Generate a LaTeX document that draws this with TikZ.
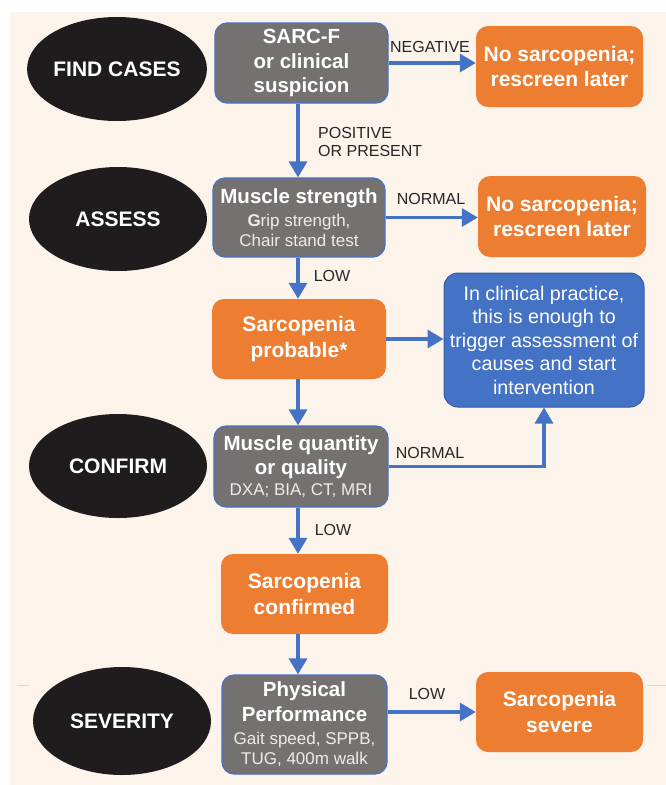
\documentclass[tikz,border=0pt]{standalone}
\usepackage{fontspec}
\setmainfont{Liberation Sans}
\usetikzlibrary{shapes.geometric,arrows.meta}
\definecolor{bgc}{RGB}{252,243,235}
\definecolor{ellc}{RGB}{30,28,29}
\definecolor{grayc}{RGB}{118,113,113}
\definecolor{orc}{RGB}{237,125,49}
\definecolor{bluec}{RGB}{68,114,196}
\definecolor{blueb}{RGB}{52,92,168}
\definecolor{labc}{RGB}{38,38,38}
\definecolor{subc}{RGB}{236,236,236}
\definecolor{faint}{RGB}{215,215,222}
\newcommand\mysub[1]{{\fontsize{17}{20}\selectfont\mdseries\color{subc}#1}}
\begin{document}
\begin{tikzpicture}[x=1pt,y=-1pt,
  stage/.style={ellipse, fill=ellc, inner sep=0pt, minimum width=178pt, minimum height=104pt,
    text=white, font=\fontsize{21}{24}\selectfont\bfseries},
  graybox/.style={rectangle, rounded corners=12pt, fill=grayc, draw=bluec, line width=1.2pt,
    text=white, align=center, inner sep=0pt, font=\fontsize{20.5}{24.5}\selectfont\bfseries},
  orbox/.style={rectangle, rounded corners=12pt, fill=orc, text=white, align=center,
    inner sep=0pt, font=\fontsize{21}{25.5}\selectfont\bfseries},
  bluebox/.style={rectangle, rounded corners=14pt, fill=bluec, draw=blueb, line width=1pt,
    text=white, align=center, inner sep=0pt, font=\fontsize{19.7}{23.5}\selectfont},
  lab/.style={text=labc, font=\fontsize{16}{18}\selectfont, inner sep=0pt, align=left},
  arr/.style={draw=bluec, line width=3.4pt, -{Triangle[length=16pt,width=18pt]}},
]
\useasboundingbox (0,0) rectangle (666,785);
\fill[bgc] (10,12) rectangle (666,785);
\draw[faint, line width=1pt] (17,685) -- (29,685);
\draw[faint, line width=1pt] (647,685) -- (666,685);

% stages
\node[stage] (find) at (117,69) {FIND CASES};
\node[stage] (assess) at (118,219) {ASSESS};
\node[stage] (confirm) at (118,466) {CONFIRM};
\node[stage, minimum height=108pt] (severity) at (122,721) {SEVERITY};

% gray boxes
\node[graybox, minimum width=173pt, minimum height=80pt] (sarc) at (301.5,63)
  {SARC-F\\or clinical\\suspicion};
\node[graybox, minimum width=172pt, minimum height=79pt] (strength) at (299,217.5)
  {Muscle strength\\[-1.5pt]\mysub{\textbf{G}rip strength,}\\[-5pt]\mysub{Chair stand test}};
\node[graybox, minimum width=174pt, minimum height=81pt] (quant) at (301,466.5)
  {Muscle quantity\\or quality\\[-3.5pt]\mysub{DXA; BIA, CT, MRI}};
\node[graybox, minimum width=165pt, minimum height=99pt] (perf) at (304.5,724.5)
  {Physical\\Performance\\[-1.5pt]\mysub{Gait speed, SPPB,}\\[-4pt]\mysub{TUG, 400m walk}};

% orange boxes
\node[orbox, minimum width=167pt, minimum height=81pt] (no1) at (559.5,66.5)
  {No sarcopenia;\\rescreen later};
\node[orbox, minimum width=168pt, minimum height=81pt] (no2) at (562,216.5)
  {No sarcopenia;\\rescreen later};
\node[orbox, minimum width=174pt, minimum height=80pt] (prob) at (299,339)
  {Sarcopenia\\probable*};
\node[orbox, minimum width=167pt, minimum height=80pt] (conf) at (304.5,594)
  {Sarcopenia\\confirmed};
\node[orbox, minimum width=167pt, minimum height=80pt] (severe) at (559.5,712)
  {Sarcopenia\\severe};

% blue box
\node[bluebox, minimum width=200pt, minimum height=134pt] (blue) at (544,340)
  {In clinical practice,\\this is enough to\\trigger assessment of\\causes and start\\intervention};

% spine
\coordinate (spine) at (298,0);

% connectors
\draw[arr] (sarc.south -| spine) -- (strength.north -| spine);
\draw[arr] (strength.south -| spine) -- (prob.north -| spine);
\draw[arr] (prob.south -| spine) -- (quant.north -| spine);
\draw[arr] (quant.south -| spine) -- (conf.north -| spine);
\draw[arr] (conf.south -| spine) -- (perf.north -| spine);
\draw[arr] (sarc.east) -- (sarc.east -| no1.west);
\draw[arr] (strength.east) -- (strength.east -| no2.west);
\draw[arr] (prob.east) -- (prob.east -| blue.west);
\draw[arr] (quant.east) -| (blue.south);
\draw[arr] (severe.west -| perf.east) -- (severe.west);

% labels
\node[lab] (lneg) at (430,47) {NEGATIVE};
\node[lab, anchor=west] (lpos) at (318,142) {POSITIVE\\OR PRESENT};
\node[lab] (lnorm1) at (431,199) {NORMAL};
\node[lab] (llow1) at (332,276) {LOW};
\node[lab] (lnorm2) at (430,453) {NORMAL};
\node[lab] (llow2) at (333,530) {LOW};
\node[lab] (llow3) at (427,694) {LOW};
\end{tikzpicture}
\end{document}
